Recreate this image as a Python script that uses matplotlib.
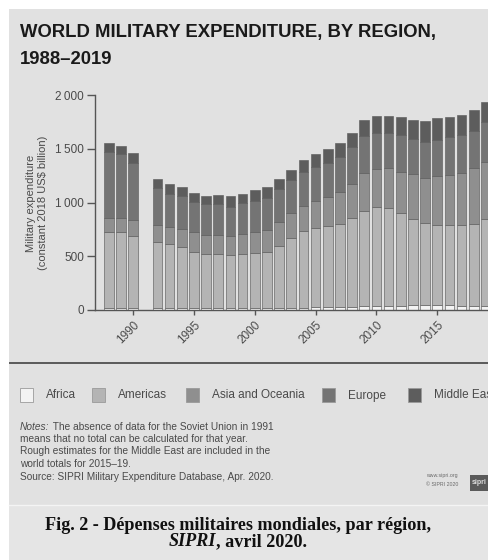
import numpy as np
import matplotlib
matplotlib.use("Agg")
import matplotlib.pyplot as plt
from matplotlib.patches import Rectangle
from matplotlib.lines import Line2D

# ---------------- data (constant 2018 US$ billion) ----------------
years = [1988, 1989, 1990, 1991, 1992, 1993, 1994, 1995, 1996, 1997, 1998, 1999,
         2000, 2001, 2002, 2003, 2004, 2005, 2006, 2007, 2008, 2009, 2010, 2011,
         2012, 2013, 2014, 2015, 2016, 2017, 2018, 2019]
africa = [20, 20, 20, None, 18, 17, 17, 16, 16, 16, 17, 18,
          19, 20, 21, 22, 23, 25, 26, 28, 32, 34, 36, 40,
          41, 44, 46, 44, 42, 41, 40, 41]
americas = [703, 709, 671, None, 612, 594, 566, 527, 505, 505, 491, 503,
            511, 523, 577, 645, 709, 741, 755, 775, 827, 890, 925, 912,
            864, 802, 760, 747, 749, 750, 760, 805]
asia_oceania = [132, 124, 146, None, 161, 158, 167, 183, 180, 179, 183, 186,
                199, 201, 224, 238, 238, 251, 273, 298, 313, 354, 351, 372,
                382, 416, 422, 452, 465, 487, 518, 534]
europe = [618, 595, 533, None, 341, 313, 307, 282, 285, 287, 270, 285,
          288, 295, 301, 304, 317, 316, 316, 325, 341, 341, 337, 325,
          344, 326, 338, 338, 356, 350, 350, 366]
middle_east = [78, 78, 94, None, 90, 93, 84, 80, 74, 84, 99, 88,
               99, 108, 96, 93, 105, 121, 125, 132, 136, 148, 156, 159,
               161, 179, 195, 202, 180, 189, 196, 186]

region_names = ["Africa", "Americas", "Asia and Oceania", "Europe", "Middle East"]
region_colors = ["#f3f3f3", "#b4b4b4", "#8f8f8f", "#747474", "#5d5d5d"]

ytick_values = [0, 500, 1000, 1500, 2000]
ytick_labels = ["0", "500", "1\u2009000", "1\u2009500", "2\u2009000"]
xtick_values = [1990, 1995, 2000, 2005, 2010, 2015]
xtick_labels = ["1990", "1995", "2000", "2005", "2010", "2015"]

title_lines = ["WORLD MILITARY EXPENDITURE, BY REGION,", "1988\u20132019"]
ylabel_text = "Military expenditure\n(constant 2018 US$ billion)"
notes_lines = [
    [("Notes:", "italic"), (" The absence of data for the Soviet Union in 1991", "normal")],
    [("means that no total can be calculated for that year.", "normal")],
    [("Rough estimates for the Middle East are included in the", "normal")],
    [("world totals for 2015\u201319.", "normal")],
]
source_text = "Source: SIPRI Military Expenditure Database, Apr. 2020."
caption_line1 = "Fig. 2 - D\u00e9penses militaires mondiales, par r\u00e9gion,"
caption_line2 = [("SIPRI", "italic"), (", avril 2020.", "normal")]

# ---------------- figure ----------------
W, H = 488, 560
fig = plt.figure(figsize=(W / 100, H / 100), dpi=100, facecolor="white")
SANS = ["Liberation Sans", "DejaVu Sans"]
SERIF = ["Liberation Serif", "DejaVu Serif"]
TXT = "#4a4a4a"


def fx(x):
    return x / W


def fy(y):
    return 1 - y / H


renderer = fig.canvas.get_renderer()

# panel backgrounds
fig.patches.append(Rectangle((fx(9), fy(505)), fx(W) - fx(9), fy(9) - fy(505),
                             transform=fig.transFigure, facecolor="#e1e1e1",
                             edgecolor="none", zorder=-10))
fig.patches.append(Rectangle((fx(9), 0), fx(W) - fx(9), fy(505),
                             transform=fig.transFigure, facecolor="#e5e5e5",
                             edgecolor="none", zorder=-10))
fig.lines.append(Line2D([fx(9), 1], [fy(505), fy(505)], transform=fig.transFigure,
                        color="#f4f4f4", lw=1, zorder=-5))

# title (two lines, fitted to the reference width)
probe = fig.text(0, 0, title_lines[0], fontsize=14, fontweight="bold", family=SANS)
tfs = 14 * 417 / probe.get_window_extent(renderer).width
probe.remove()
for line, base in zip(title_lines, [37.5, 64]):
    fig.text(fx(20), fy(base), line, fontsize=tfs, fontweight="bold",
             family=SANS, color="#1a1a1a", ha="left", va="baseline")

# axes
x_left, x_right = 95, W
y_top, y_bot = 95, 310
ax = fig.add_axes([fx(x_left), fy(y_bot), fx(x_right) - fx(x_left), fy(y_top) - fy(y_bot)])
ax.patch.set_visible(False)

yr = np.array(years, dtype=float)
series = [africa, americas, asia_oceania, europe, middle_east]
valid = np.array([v is not None for v in africa])
bottom = np.zeros(valid.sum())
for vals, col in zip(series, region_colors):
    v = np.array([x for x in vals if x is not None], dtype=float)
    ax.bar(yr[valid], v, bottom=bottom, width=0.8, color=col,
           edgecolor="#5f5f5f", linewidth=0.45)
    bottom = bottom + v

px_per_year = 12.17
x0 = 1988 - (108.7 - x_left) / px_per_year
x1 = 1988 + (x_right - 108.7) / px_per_year
ax.set_xlim(x0, x1)
ax.set_ylim(0, 2000)

for s in ["top", "right"]:
    ax.spines[s].set_visible(False)
for s in ["left", "bottom"]:
    ax.spines[s].set_color("#555555")
    ax.spines[s].set_linewidth(1.0)

ax.set_yticks(ytick_values)
ax.set_yticklabels(ytick_labels, family=SANS, fontsize=8.5, color=TXT)
ax.set_xticks(xtick_values)
ax.set_xticklabels(xtick_labels, family=SANS, fontsize=8.5, color=TXT,
                   rotation=45, ha="right", rotation_mode="anchor")
ax.tick_params(axis="y", length=6, width=1, color="#555555", pad=2)
ax.tick_params(axis="x", length=3.6, width=1, color="#555555", pad=3)

fig.text(fx(37), fy(203), ylabel_text, rotation=90, family=SANS, fontsize=8,
         color=TXT, ha="center", va="center", multialignment="center",
         linespacing=1.15)

# separator
fig.lines.append(Line2D([fx(10), 1], [fy(363), fy(363)], transform=fig.transFigure,
                        color="#5a5a5a", lw=1.4))

# legend
sw_x = [20, 92, 186, 322, 408]
for name, col, sx in zip(region_names, region_colors, sw_x):
    fig.patches.append(Rectangle((fx(sx), fy(402)), 13 / W, 14 / H,
                                 transform=fig.transFigure, facecolor=col,
                                 edgecolor="#9a9a9a", lw=0.6))
    fig.text(fx(sx + 26), fy(395.5), name, family=SANS, fontsize=8.5,
             color=TXT, ha="left", va="center")

# notes
probe = fig.text(0, 0, "Notes: The absence of data for the Soviet Union in 1991",
                 family=SANS, fontsize=7)
nfs = 7 * 252 / probe.get_window_extent(renderer).width
probe.remove()


def place_runs(x, y, parts, size, family, color, weight="normal", center=False):
    artists = []
    for txt, style in parts:
        a = fig.text(fx(x), fy(y), txt, family=family, fontsize=size, style=style,
                     fontweight=weight, color=color, ha="left", va="center")
        artists.append(a)
    widths = [a.get_window_extent(renderer).width for a in artists]
    start = x - sum(widths) / 2 if center else x
    for a, wd in zip(artists, widths):
        a.set_x(fx(start))
        start += wd
    return artists


for i, parts in enumerate(notes_lines):
    place_runs(20, 427 + 12.2 * i, parts, nfs, SANS, TXT)
place_runs(20, 477.5, [(source_text, "normal")], nfs, SANS, TXT)

# sipri mark
fig.text(fx(458), fy(476), "www.sipri.org", family=SANS, fontsize=3.8,
         color="#6a6a6a", ha="right", va="center")
fig.text(fx(458), fy(484), "\u00a9 SIPRI 2020", family=SANS, fontsize=3.8,
         color="#6a6a6a", ha="right", va="center")
fig.patches.append(Rectangle((fx(470), fy(491)), 18 / W, 16 / H,
                             transform=fig.transFigure, facecolor="#5a5a5a",
                             edgecolor="none"))
fig.text(fx(472), fy(483), "sipri", family=SANS, fontsize=5, fontweight="bold",
         color="#dddddd", ha="left", va="center")

# caption
probe = fig.text(0, 0, caption_line1, family=SERIF, fontsize=11, fontweight="bold")
cfs = 11 * 386 / probe.get_window_extent(renderer).width
probe.remove()
fig.text(fx(238), fy(525), caption_line1, family=SERIF, fontsize=cfs,
         fontweight="bold", color="#111111", ha="center", va="center")
place_runs(238, 542, caption_line2, cfs, SERIF, "#111111", weight="bold", center=True)

fig.savefig("out.png", dpi=100, facecolor="white")
